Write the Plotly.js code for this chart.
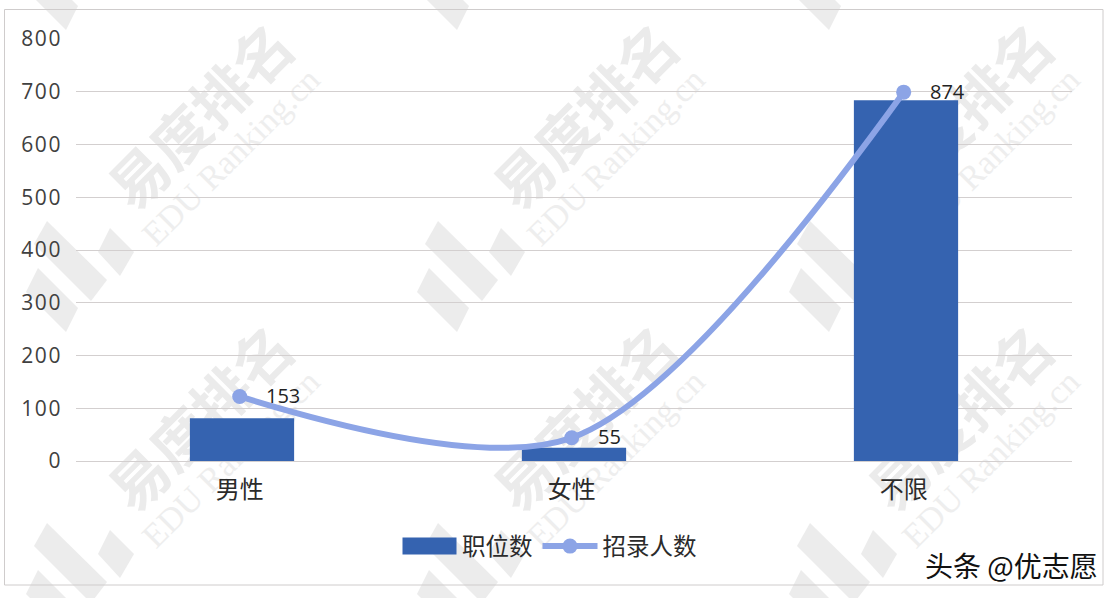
<!DOCTYPE html>
<html>
<head>
<meta charset="utf-8">
<script src="https://cdn.plot.ly/plotly-3.0.1.min.js"></script>
<style>
html,body{margin:0;padding:0;background:#fff}
#chart .ytick text{letter-spacing:1.6px}
</style>
</head>
<body>
<div id="chart" style="width:1116px;height:598px"></div>
<script>
const categories = ['男性', '女性', '不限'];
const positions = [81, 25, 684];
const recruits = [153, 55, 874];
const yTicks = [0, 100, 200, 300, 400, 500, 600, 700, 800];
const barName = '职位数';
const lineName = '招录人数';
const brandText = '易度排名';
const brandSub = 'EDU Ranking.cn';
const credit = '头条 @优志愿';

const W = 1116, H = 598, L = 76, R = 1072, T = 39, B = 461;
const fx = p => (p - L) / (R - L);
const fy = p => (B - p) / (B - T);
const textFont = 'Open Sans, Noto Sans CJK SC, sans-serif';
const cjkFont = 'Noto Sans CJK SC, sans-serif';

function poly(pts, dx, dy) {
  return 'M' + pts.map(p => fx(p[0] + dx) + ',' + fy(p[1] + dy)).join(' L') + ' Z';
}
const logoParts = [
  [[438,221],[498,280],[482,301],[425,244]],
  [[429,268],[469,308],[457,332],[417,292]],
  [[501,228],[525,252],[511,276],[489,252]]
];
const shapes = [];
[-391, 0, 372].forEach(dx => [-302, 0, 302].forEach(dy => logoParts.forEach(part => {
  shapes.push({type:'path', xref:'paper', yref:'paper', layer:'between', path:poly(part, dx, dy),
    fillcolor:'#ececec', line:{width:0}});
})));
[[205,0],[590,0],[965,0],[205,302],[590,302],[965,302]].forEach(o => {
  const cx = o[0] + 30, cy = 118 + o[1] + 35;
  shapes.push({type:'line', xref:'paper', yref:'paper', layer:'between',
    x0:fx(cx-100), y0:fy(cy+100), x1:fx(cx+100), y1:fy(cy-100), line:{width:0, color:'rgba(0,0,0,0)'},
    label:{text:brandText, textangle:-45, textposition:'middle', font:{family:cjkFont, size:58, weight:700, color:'#ebebeb'}}});
  shapes.push({type:'line', xref:'paper', yref:'paper', layer:'between',
    x0:fx(cx-84), y0:fy(cy+107), x1:fx(cx+96), y1:fy(cy-73), line:{width:0, color:'rgba(0,0,0,0)'},
    label:{text:brandSub, textangle:-45, textposition:'middle', font:{family:'Liberation Serif, serif', size:34, color:'#eeeeee'}}});
});
shapes.push({type:'rect', xref:'paper', yref:'paper', layer:'between',
  x0:fx(4.5), x1:fx(1103), y0:fy(585), y1:fy(9.5), line:{color:'#cfcccc', width:1}, fillcolor:'rgba(0,0,0,0)'});

const traces = [
  {type:'bar', name:barName, x:categories, y:positions, width:0.314,
   marker:{color:'#3563b0'}, xaxis:'x', yaxis:'y'},
  {type:'scatter', name:lineName, x:categories, y:recruits, xaxis:'x2', yaxis:'y2',
   mode:'lines+markers', cliponaxis:false,
   line:{shape:'spline', smoothing:0.9, color:'#8ca4e6', width:6},
   marker:{size:15, color:'#8ca4e6'}}
];

const labels = categories.map((c, i) => ({
  text:String(recruits[i]), x:c, y:recruits[i], xref:'x2', yref:'y2', xanchor:'left', yanchor:'middle',
  xshift:24, yshift:1, showarrow:false, font:{family:textFont, size:20, color:'#222222'}
}));

const layout = {
  width:W, height:H, margin:{l:L, r:W-R, t:T, b:H-B, pad:0},
  paper_bgcolor:'#ffffff', plot_bgcolor:'rgba(0,0,0,0)',
  showlegend:true,
  legend:{orientation:'h', x:fx(397), xanchor:'left', y:-0.15, yanchor:'top',
    font:{family:cjkFont, size:23.5, color:'#2b2b2b'}, itemwidth:55, traceorder:'normal', bgcolor:'rgba(0,0,0,0)'},
  xaxis:{type:'category', categoryorder:'array', categoryarray:categories, range:[-0.5,2.5],
    showgrid:false, showline:false, zeroline:false, ticks:'', showticklabels:false, automargin:false},
  xaxis2:{type:'category', categoryorder:'array', categoryarray:categories, range:[-0.493,2.507],
    overlaying:'x', anchor:'y', side:'bottom',
    showgrid:false, showline:false, zeroline:false, ticks:'', ticklen:0, ticklabelstandoff:12,
    tickfont:{family:cjkFont, size:24, color:'#2b2b2b'}, automargin:false},
  yaxis:{range:[0,800], tickvals:yTicks, showgrid:true, gridcolor:'#d3cfcf', gridwidth:1,
    zeroline:true, zerolinecolor:'#d3cfcf', zerolinewidth:1, showline:false, ticks:'', ticklabelstandoff:13,
    tickfont:{family:textFont, size:21, color:'#404040'}, automargin:false},
  yaxis2:{range:[0,1000], overlaying:'y', side:'right', visible:false, showgrid:false},
  shapes:shapes,
  annotations:labels.concat([
    {text:credit, xref:'paper', yref:'paper', x:fx(1100), y:fy(565), xanchor:'right', yanchor:'middle',
     showarrow:false, font:{family:cjkFont, size:28, color:'#111111'}}
  ])
};
Plotly.newPlot('chart', traces, layout, {displayModeBar:false, staticPlot:true}).then(() => {
  const swatch = document.querySelector('#chart .legendbar path, #chart .legendpoints path');
  if (swatch) swatch.setAttribute('d', 'M27,8.5H-27V-8.5H27Z');
});
</script>
</body>
</html>
